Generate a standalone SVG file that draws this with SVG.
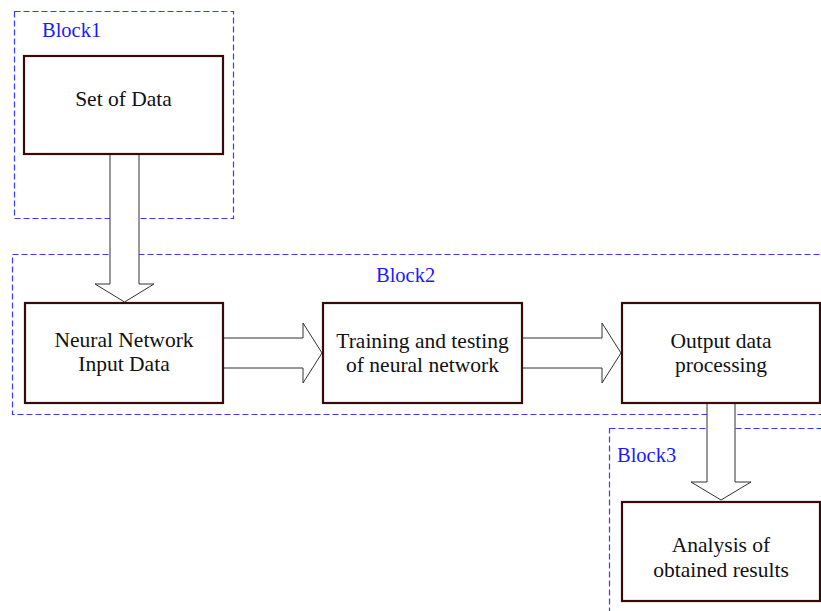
<svg xmlns="http://www.w3.org/2000/svg" width="821" height="611" viewBox="0 0 821 611">
<style>
.blk{fill:none;stroke:#3a3aff;stroke-width:1.2;stroke-dasharray:6 3}
.box{fill:#fff;stroke:#3a0a0a;stroke-width:2.2}
.arr{fill:#fff;stroke:#333;stroke-width:1}
.t{font-family:"Liberation Serif",serif;font-size:21.5px;fill:#111;text-anchor:middle}
.bl{font-family:"Liberation Serif",serif;font-size:20.5px;fill:#1a1aff}
</style>
<rect width="821" height="611" fill="#fff"/>
<g id="block1"><rect class="blk" x="14.5" y="11.5" width="219" height="207"/><text class="bl" x="42" y="37">Block1</text></g>
<g id="block2"><rect class="blk" x="12.5" y="254.5" width="830" height="160"/><text class="bl" x="376" y="282">Block2</text></g>
<g id="block3"><rect class="blk" x="609.5" y="428.5" width="230" height="200"/><text class="bl" x="617" y="462">Block3</text></g>
<g id="connectors">
<path class="arr" d="M110,154 V284 H95 L124.5,302 L154,284 H139 V154"/>
<path class="arr" d="M223,338 H303 V323 L322,353 L303,383 V368 H223"/>
<path class="arr" d="M522,338 H602 V323 L621,353 L602,383 V368 H522"/>
<path class="arr" d="M707,403 V482 H691 L721,500 L751,482 H735 V403"/>
</g>
<g id="setofdata"><rect class="box" x="24" y="56" width="199" height="98"/><text class="t" x="123.5" y="106">Set of Data</text></g>
<g id="nninput"><rect class="box" x="25" y="303" width="198" height="100"/><text class="t" x="124" y="347">Neural Network</text><text class="t" x="124" y="371">Input Data</text></g>
<g id="training"><rect class="box" x="323" y="303" width="199" height="100"/><text class="t" x="422.5" y="348">Training and testing</text><text class="t" x="422.5" y="372">of neural network</text></g>
<g id="output"><rect class="box" x="622" y="303" width="198" height="100"/><text class="t" x="721" y="348">Output data</text><text class="t" x="721" y="372">processing</text></g>
<g id="analysis"><rect class="box" x="622" y="502" width="198" height="99"/><text class="t" x="721" y="552">Analysis of</text><text class="t" x="721" y="577">obtained results</text></g>
</svg>
